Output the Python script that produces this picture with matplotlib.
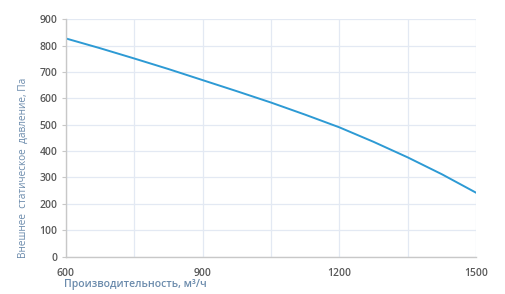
import matplotlib
matplotlib.use("Agg")
import matplotlib.pyplot as plt

flow = [600, 675, 750, 825, 900, 975, 1050, 1125, 1200, 1275, 1350, 1425, 1500]
pressure = [827, 790, 751, 711, 669, 627, 584, 538, 490, 435, 376, 312, 242]
x_ticks = [600, 750, 900, 1050, 1200, 1350, 1500]
x_labels = ["600", "", "900", "", "1200", "", "1500"]
y_ticks = [0, 100, 200, 300, 400, 500, 600, 700, 800, 900]

plt.rcParams['font.family'] = ['Open Sans', 'DejaVu Sans']

fig = plt.figure(figsize=(5.05, 2.94), dpi=100)
ax = fig.add_axes([0.130, 0.127, 0.813, 0.808])

ax.plot(flow, pressure, color='#2d9ad4', lw=1.4)
ax.set_xlim(600, 1500)
ax.set_ylim(0, 900)
ax.set_xticks(x_ticks)
ax.set_xticklabels(x_labels)
ax.set_yticks(y_ticks)
ax.grid(True, color='#e3e9f3', lw=0.9)
ax.set_axisbelow(True)
for s in ['top', 'right']:
    ax.spines[s].set_visible(False)
for s in ['left', 'bottom']:
    ax.spines[s].set_color('#c8c8c8')
    ax.spines[s].set_linewidth(1.0)
ax.tick_params(axis='y', length=3, color='#c8c8c8', labelsize=7.5, labelcolor='#595959', pad=3)
ax.tick_params(axis='x', length=0, labelsize=7.5, labelcolor='#595959', pad=8)
for lab in ax.get_xticklabels() + ax.get_yticklabels():
    lab.set_fontweight('semibold')

fig.text(64/505, 1 - 285/294, "Производительность, м³/ч", fontsize=7.6, color='#6b8bac',
         fontweight='semibold', ha='left', va='center')
fig.text(23/505, 1 - 168/294, "Внешнее  статическое  давление, Па", fontsize=7.2, color='#6b8bac',
         rotation=90, ha='center', va='center')

fig.savefig("out.png", dpi=100)
